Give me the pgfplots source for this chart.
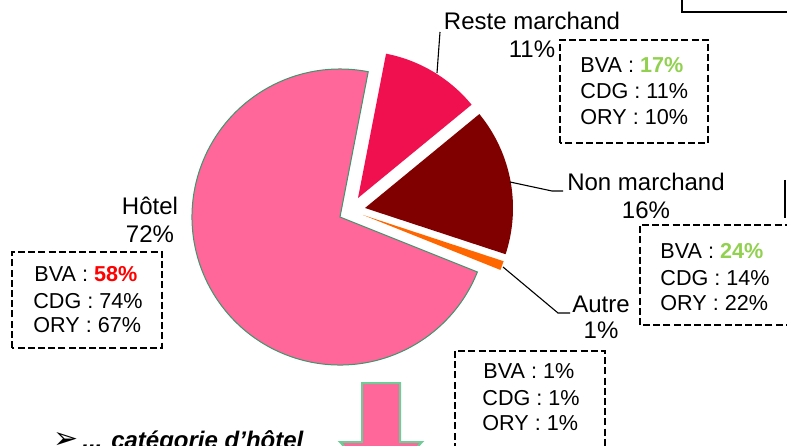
\documentclass[border=0pt]{standalone}
\usepackage{pgfplots}
\usepackage{pgfplotstable}
\pgfplotsset{compat=1.18}
\usepackage{fontspec}
\setmainfont{Liberation Sans}
\newfontfamily\dejavu{DejaVu Sans}

\definecolor{hotel}{RGB}{255,102,153}
\definecolor{reste}{RGB}{240,16,80}
\definecolor{nonm}{RGB}{128,0,0}
\definecolor{autre}{RGB}{255,102,0}
\definecolor{pieedge}{RGB}{60,150,110}
\definecolor{vert}{RGB}{146,208,80}
\definecolor{arrowedge}{RGB}{110,205,150}

\tikzset{
  lab/.style={font=\fontsize{12}{14}\selectfont,inner sep=0pt,anchor=base},
  box/.style={font=\fontsize{10.8}{13}\selectfont,inner sep=0pt,anchor=base west},
  dbox/.style={draw=black,line width=0.75pt,dash pattern=on 3.5pt off 1.6pt},
  lead/.style={draw=black,line width=0.55pt}}

% share in %, explode offset (dx, dy) in px
\pgfplotstableread{
slice share dx dy
Reste 11 18 19
NonMarchand 16 25 9
Autre 1 23 2
Hotel 72 0 0
}\pietable

% angles and apexes from the table
\pgfmathsetmacro\angA{79}
\pgfplotstablegetelem{0}{share}\of\pietable \pgfmathsetmacro\angB{\angA-3.6*\pgfplotsretval}
\pgfplotstablegetelem{1}{share}\of\pietable \pgfmathsetmacro\angC{\angB-3.6*\pgfplotsretval}
\pgfplotstablegetelem{2}{share}\of\pietable \pgfmathsetmacro\angD{\angC-3.6*\pgfplotsretval}
\pgfplotstablegetelem{3}{share}\of\pietable \pgfmathsetmacro\angE{\angD-3.6*\pgfplotsretval}
\pgfplotstablegetelem{0}{dx}\of\pietable \pgfmathsetmacro\xA{340+\pgfplotsretval}
\pgfplotstablegetelem{0}{dy}\of\pietable \pgfmathsetmacro\yA{228+\pgfplotsretval}
\pgfplotstablegetelem{1}{dx}\of\pietable \pgfmathsetmacro\xB{340+\pgfplotsretval}
\pgfplotstablegetelem{1}{dy}\of\pietable \pgfmathsetmacro\yB{228+\pgfplotsretval}
\pgfplotstablegetelem{2}{dx}\of\pietable \pgfmathsetmacro\xC{340+\pgfplotsretval}
\pgfplotstablegetelem{2}{dy}\of\pietable \pgfmathsetmacro\yC{228+\pgfplotsretval}
\pgfplotstablegetelem{3}{dx}\of\pietable \pgfmathsetmacro\xD{340+\pgfplotsretval}
\pgfplotstablegetelem{3}{dy}\of\pietable \pgfmathsetmacro\yD{228+\pgfplotsretval}

\begin{document}
\begin{tikzpicture}
\useasboundingbox (0,0) rectangle (393.5pt,222.5pt);
\clip (0,0) rectangle (393.5pt,222.5pt);
\begin{axis}[x=0.5pt,y=0.5pt,xmin=0,xmax=787,ymin=0,ymax=445,
  hide axis,clip=false,at={(0pt,0pt)},anchor=south west]

% pie slices
\fill[hotel,draw=pieedge,line width=0.5pt] (axis cs:\xD,\yD) -- ++(\angD:74pt) arc[start angle=\angD,end angle=\angE,radius=74pt] -- cycle;
\fill[reste] (axis cs:\xA,\yA) -- ++(\angA:73.5pt) arc[start angle=\angA,end angle=\angB,radius=73.5pt] -- cycle;
\fill[nonm] (axis cs:\xB,\yB) -- ++(\angB:74pt) arc[start angle=\angB,end angle=\angC,radius=74pt] -- cycle;
\fill[autre] (axis cs:\xC,\yC) -- ++(\angC:74pt) arc[start angle=\angC,end angle=\angD,radius=74pt] -- cycle;

% leader lines
\draw[lead] (axis cs:437,372) -- (axis cs:440,413);
\draw[lead] (axis cs:510,263) -- (axis cs:552,254) -- (axis cs:563,254);
\draw[lead] (axis cs:503,178) -- (axis cs:558,132) -- (axis cs:570,132);

% labels
\node[lab] at (axis cs:150,230) {Hôtel};
\node[lab] at (axis cs:150,203) {72\%};
\node[lab] at (axis cs:532,415) {Reste marchand};
\node[lab] at (axis cs:532,387) {11\%};
\node[lab] at (axis cs:646,254) {Non marchand};
\node[lab] at (axis cs:646,227) {16\%};
\node[lab] at (axis cs:601,133) {Autre};
\node[lab] at (axis cs:601,107) {1\%};

% dashed boxes
\draw[dbox] (axis cs:12,97) rectangle (axis cs:162,193);
\draw[dbox] (axis cs:560,302) rectangle (axis cs:708,405);
\draw[dbox] (axis cs:640,120) rectangle (axis cs:800,220);
\draw[dbox] (axis cs:455,-15) rectangle (axis cs:605,94);

\node[box] at (axis cs:34,163) {BVA : \textcolor{red}{\bfseries 58\%}};
\node[box] at (axis cs:33,137) {CDG : 74\%};
\node[box] at (axis cs:33,113) {ORY : 67\%};
\node[box] at (axis cs:580,372) {BVA : \textcolor{vert}{\bfseries 17\%}};
\node[box] at (axis cs:580,346) {CDG : 11\%};
\node[box] at (axis cs:580,320) {ORY : 10\%};
\node[box] at (axis cs:660,186) {BVA : \textcolor{vert}{\bfseries 24\%}};
\node[box] at (axis cs:660,160) {CDG : 14\%};
\node[box] at (axis cs:660,134) {ORY : 22\%};
\node[box] at (axis cs:483,67) {BVA : 1\%};
\node[box] at (axis cs:482,40) {CDG : 1\%};
\node[box] at (axis cs:482,15) {ORY : 1\%};

% other frame pieces
\draw[black,line width=1pt] (axis cs:682,450) -- (axis cs:682,433) -- (axis cs:800,433);
\draw[black,line width=1pt] (axis cs:785,265) -- (axis cs:785,227);

% arrow
\filldraw[fill=hotel,draw=arrowedge,line width=1pt] (axis cs:362,62) -- (axis cs:400,62) -- (axis cs:400,3) -- (axis cs:422,3) -- (axis cs:381,-40) -- (axis cs:340,3) -- (axis cs:362,3) -- cycle;

% bottom text
\node[inner sep=0pt,anchor=base west,font=\fontsize{15}{17}\selectfont] at (axis cs:53,-3) {\dejavu ➢};
\node[inner sep=0pt,anchor=base west,font=\fontsize{12}{14}\selectfont\bfseries\itshape] at (axis cs:82,-3) {... catégorie d’hôtel};
\end{axis}
\end{tikzpicture}
\end{document}
